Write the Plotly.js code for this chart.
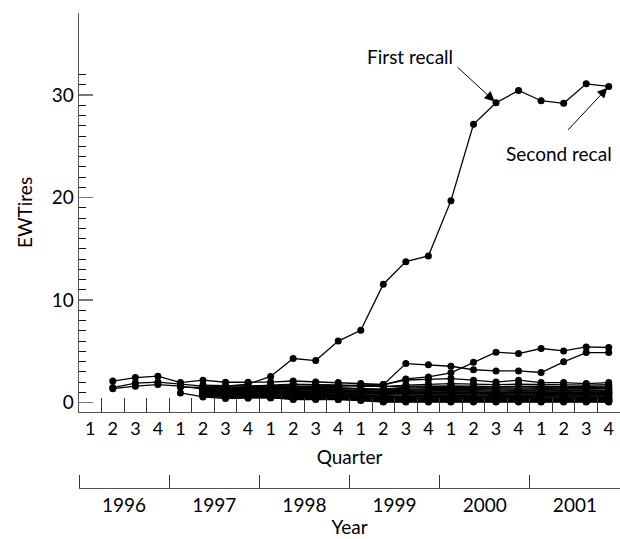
<!DOCTYPE html>
<html><head><meta charset="utf-8">
<script src="https://cdn.plot.ly/plotly-3.0.1.min.js"></script>
<style>html,body{margin:0;padding:0;background:#fff}#chart{width:620px;height:539px}</style>
</head><body><div id="chart"></div>
<script>
// ---- categories ----
const years = ['1996','1997','1998','1999','2000','2001'];
const quarterNames = ['1','2','3','4'];
const quarterLabels = years.flatMap(() => quarterNames);   // 24 quarter tick labels
const yMajorTicks = [0, 10, 20, 30];

// ---- series values (EWTires per quarter) ----
const spikeSeries  = [1.5, 1.6, 1.8, 2.55, 4.3, 4.1, 6.0, 7.05, 11.55, 13.75, 14.3, 19.7, 27.15, 29.25, 30.45, 29.45, 29.2, 31.1, 30.85]; // from 1997 Q2
const risingB      = [1.5, 1.45, 1.45, 1.5, 1.6, 1.55, 1.6, 1.65, 1.7, 1.75, 3.8, 3.7, 3.54, 3.2, 3.09, 3.09, 2.93, 3.97, 4.88, 4.88]; // from 1997 Q1
const risingC      = [1.4, 1.35, 1.4, 1.45, 1.5, 1.5, 1.55, 1.6, 1.7, 2.3, 2.5, 2.9, 3.93, 4.91, 4.78, 5.27, 5.04, 5.43, 5.37]; // from 1997 Q2
const topLineD     = [2.1, 2.44, 2.57, 1.95, 2.18, 1.98, 1.98, 2.0, 2.1, 2.0, 1.95, 1.85, 1.76, 2.2, 2.25, 2.34, 2.18, 2.0, 2.18, 1.95, 1.95, 1.85, 1.95]; // from 1996 Q2
const lineE        = [1.46, 1.9, 2.0, 1.8, 1.6, 1.65, 1.6, 1.65, 1.7, 1.75, 1.7, 1.6, 1.55, 1.6, 1.6, 1.65, 1.6, 1.55, 1.6, 1.6, 1.55, 1.6, 1.6]; // from 1996 Q2
const lineF        = [1.35, 1.6, 1.75, 1.6, 1.3, 1.25, 1.2, 1.25, 1.3, 1.25, 1.2, 1.1, 1.0, 1.05, 1.0, 1.05, 1.0, 0.95, 1.0, 1.0, 0.95, 0.95, 1.0]; // from 1996 Q2
const lineG        = [0.94, 0.55, 0.39, 0.45, 0.49, 0.29, 0.3, 0.3, 0.2, 0.05, 0.05, 0.05, 0.06, 0.05, 0.05, 0.05, 0.05, 0.05, 0.06, 0.05]; // from 1997 Q1
// dense bundle, all from 1997 Q2
const bundle01 = [1.55,1.5,1.45,1.5,1.55,1.5,1.45,1.4,1.3,1.5,1.55,1.6,1.55,1.5,1.55,1.5,1.5,1.45,1.5];
const bundle02 = [1.4,1.35,1.3,1.35,1.4,1.35,1.35,1.3,1.2,1.3,1.35,1.4,1.35,1.3,1.3,1.35,1.3,1.3,1.35];
const bundle03 = [1.3,1.2,1.2,1.25,1.2,1.25,1.2,1.15,1.05,1.1,1.15,1.2,1.15,1.1,1.15,1.1,1.15,1.1,1.1];
const bundle04 = [1.2,1.1,1.1,1.1,1.05,1.1,1.05,1.0,0.9,0.95,1.0,1.0,0.95,0.9,0.95,0.95,0.9,0.95,0.9];
const bundle05 = [1.1,1.0,1.0,0.95,0.95,1.0,0.95,0.9,0.8,0.85,0.85,0.9,0.85,0.8,0.85,0.8,0.8,0.85,0.8];
const bundle06 = [1.05,0.95,0.9,0.9,0.85,0.9,0.85,0.8,0.7,0.75,0.75,0.8,0.75,0.7,0.7,0.75,0.7,0.7,0.75];
const bundle07 = [1.0,0.9,0.85,0.85,0.8,0.8,0.8,0.75,0.6,0.65,0.65,0.7,0.65,0.6,0.65,0.6,0.65,0.6,0.6];
const bundle08 = [0.95,0.85,0.8,0.75,0.75,0.75,0.7,0.65,0.5,0.55,0.6,0.6,0.55,0.5,0.55,0.55,0.5,0.55,0.5];
const bundle09 = [0.9,0.8,0.75,0.7,0.65,0.7,0.65,0.6,0.45,0.45,0.5,0.5,0.45,0.45,0.45,0.4,0.45,0.45,0.4];
const bundle10 = [0.85,0.75,0.7,0.65,0.6,0.6,0.6,0.55,0.35,0.4,0.4,0.45,0.4,0.35,0.4,0.35,0.35,0.4,0.35];
const bundle11 = [0.8,0.7,0.65,0.6,0.55,0.55,0.5,0.45,0.3,0.3,0.35,0.35,0.3,0.3,0.3,0.3,0.3,0.3,0.3];
const bundle12 = [0.75,0.65,0.6,0.55,0.5,0.5,0.45,0.4,0.25,0.25,0.25,0.3,0.25,0.2,0.25,0.25,0.2,0.25,0.2];
const bundle13 = [0.7,0.6,0.55,0.5,0.45,0.45,0.4,0.35,0.15,0.2,0.2,0.2,0.2,0.15,0.2,0.15,0.2,0.15,0.15];
const bundle14 = [0.65,0.5,0.5,0.5,0.35,0.35,0.35,0.3,0.1,0.1,0.15,0.15,0.1,0.1,0.1,0.1,0.1,0.1,0.1];
const bundle15 = [1.7,1.65,1.6,1.7,1.8,1.75,1.7,1.65,1.55,1.7,1.8,1.85,1.8,1.75,1.8,1.75,1.75,1.7,1.75];
const bundle16 = [1.35,1.25,1.25,1.3,1.3,1.3,1.25,1.2,1.1,1.2,1.25,1.3,1.25,1.2,1.2,1.25,1.2,1.2,1.2];
const bundle17 = [1.25,1.15,1.15,1.15,1.15,1.15,1.1,1.05,0.95,1.05,1.05,1.1,1.05,1.0,1.05,1.0,1.05,1.0,1.0];
const bundle18 = [1.15,1.05,1.05,1.0,1.0,1.05,1.0,0.95,0.85,0.9,0.9,0.95,0.9,0.85,0.9,0.9,0.85,0.9,0.85];
const bundle19 = [1.0,0.95,0.9,0.8,0.8,0.85,0.75,0.7,0.55,0.6,0.7,0.65,0.6,0.65,0.6,0.7,0.6,0.65,0.65];
const bundle20 = [0.9,0.75,0.7,0.7,0.7,0.65,0.55,0.5,0.4,0.5,0.45,0.55,0.5,0.4,0.5,0.45,0.4,0.5,0.45];
const bundle21 = [0.8,0.65,0.6,0.65,0.6,0.6,0.55,0.5,0.2,0.35,0.3,0.4,0.35,0.25,0.35,0.2,0.25,0.35,0.25];
const bundle22 = [0.6,0.55,0.45,0.45,0.4,0.4,0.3,0.25,0.1,0.15,0.1,0.1,0.15,0.1,0.15,0.1,0.15,0.1,0.1];
const bundle23 = [1.45,1.4,1.35,1.4,1.45,1.45,1.4,1.35,1.25,1.4,1.45,1.5,1.45,1.4,1.4,1.45,1.4,1.35,1.4];

// ---- annotation texts ----
const firstRecallText = 'First recall';
const secondRecallText = 'Second recal';

// series with the quarter number (1 = 1996 Q1) where each begins
const seriesList = [
  [6, spikeSeries], [5, risingB], [6, risingC], [2, topLineD], [2, lineE], [2, lineF], [5, lineG],
  [6, bundle01], [6, bundle02], [6, bundle03], [6, bundle04], [6, bundle05], [6, bundle06], [6, bundle07],
  [6, bundle08], [6, bundle09], [6, bundle10], [6, bundle11], [6, bundle12], [6, bundle13], [6, bundle14],
  [6, bundle15], [6, bundle16], [6, bundle17], [6, bundle18], [6, bundle19], [6, bundle20], [6, bundle21],
  [6, bundle22], [6, bundle23]
];

const nQ = quarterLabels.length;
const qx = quarterLabels.map((_, i) => i + 1);
const qBoundaries = qx.slice(0, -1).map(v => v + 0.5);
const yearCenters = years.map((_, k) => 4 * k + 2.5);
const yearBoundaries = years.map((_, k) => 4 * k + 0.5);
const yMinor = [];
for (let v = 1; v <= 32; v++) if (v % 10 !== 0) yMinor.push(v);

const traces = seriesList.map(([start, vals]) => {
  const y = qx.map(q => (q >= start && q - start < vals.length) ? vals[q - start] : null);
  return {
    x: qx, y: y, type: 'scatter', mode: 'lines+markers',
    line: {color: '#000', width: 1.3}, marker: {color: '#000', size: 7},
    hoverinfo: 'skip', cliponaxis: false
  };
});
traces.push({x: [], y: [], xaxis: 'x2', yaxis: 'y', type: 'scatter', mode: 'markers', hoverinfo: 'skip'});

const axisColor = '#555';
const layout = {
  width: 620, height: 539,
  margin: {l: 79.4, r: 0, t: 13, b: 51.3, pad: 0},
  paper_bgcolor: '#fff', plot_bgcolor: '#fff',
  font: {family: 'Lato, "DejaVu Sans", sans-serif', color: '#000', size: 18},
  showlegend: false,
  hovermode: false,
  xaxis: {
    range: [0.5, nQ + 0.5], anchor: 'y', showline: true, linecolor: axisColor, linewidth: 1.3,
    showgrid: false, zeroline: false,
    tickmode: 'array', tickvals: qx, ticktext: quarterLabels, ticks: '', tickfont: {size: 18},
    minor: {tickmode: 'array', tickvals: qBoundaries, ticks: 'inside', ticklen: 14, tickcolor: '#333', tickwidth: 1, showgrid: false},
    title: {text: 'Quarter', font: {size: 19}, standoff: 12}
  },
  xaxis2: {
    range: [0.5, nQ + 0.5], overlaying: 'x', anchor: 'free', position: 0, side: 'bottom',
    showline: true, linecolor: axisColor, linewidth: 1.3, showgrid: false, zeroline: false,
    tickmode: 'array', tickvals: yearCenters, ticktext: years, ticks: '', tickfont: {size: 19},
    minor: {tickmode: 'array', tickvals: yearBoundaries, ticks: 'inside', ticklen: 13, tickcolor: '#333', tickwidth: 1, showgrid: false},
    title: {text: 'Year', font: {size: 19}, standoff: 5}
  },
  yaxis: {
    domain: [0.1601, 1], range: [-0.918, 38.01], showline: true, linecolor: axisColor, linewidth: 1.3,
    showgrid: false, zeroline: false,
    tickmode: 'array', tickvals: yMajorTicks, ticks: 'inside', ticklen: 14, tickcolor: '#777', tickwidth: 1.3,
    tickfont: {size: 19},
    minor: {tickmode: 'array', tickvals: yMinor, ticks: 'inside', ticklen: 7, tickcolor: '#111', tickwidth: 1, showgrid: false},
    title: {text: 'EWTires', font: {size: 19}, standoff: 14}
  },
  annotations: [
    {xref: 'paper', yref: 'paper', x: 0.6115, y: 0.908, text: firstRecallText, showarrow: false,
     xanchor: 'center', yanchor: 'middle', font: {size: 19}},
    {xref: 'x', yref: 'y', x: qx[18], y: spikeSeries[13], text: '', showarrow: true,
     ax: -40, ay: -37, arrowhead: 2, arrowsize: 2, arrowwidth: 1, arrowcolor: '#000', standoff: 2},
    {xref: 'paper', yref: 'paper', x: 0.888, y: 0.7044, text: secondRecallText, showarrow: false,
     xanchor: 'center', yanchor: 'middle', font: {size: 19}},
    {xref: 'x', yref: 'y', x: qx[23], y: spikeSeries[18], text: '', showarrow: true,
     ax: -42, ay: 45, arrowhead: 2, arrowsize: 2, arrowwidth: 1, arrowcolor: '#000', standoff: 2}
  ]
};

Plotly.newPlot('chart', traces, layout, {displayModeBar: false, staticPlot: true});
</script>
</body></html>
